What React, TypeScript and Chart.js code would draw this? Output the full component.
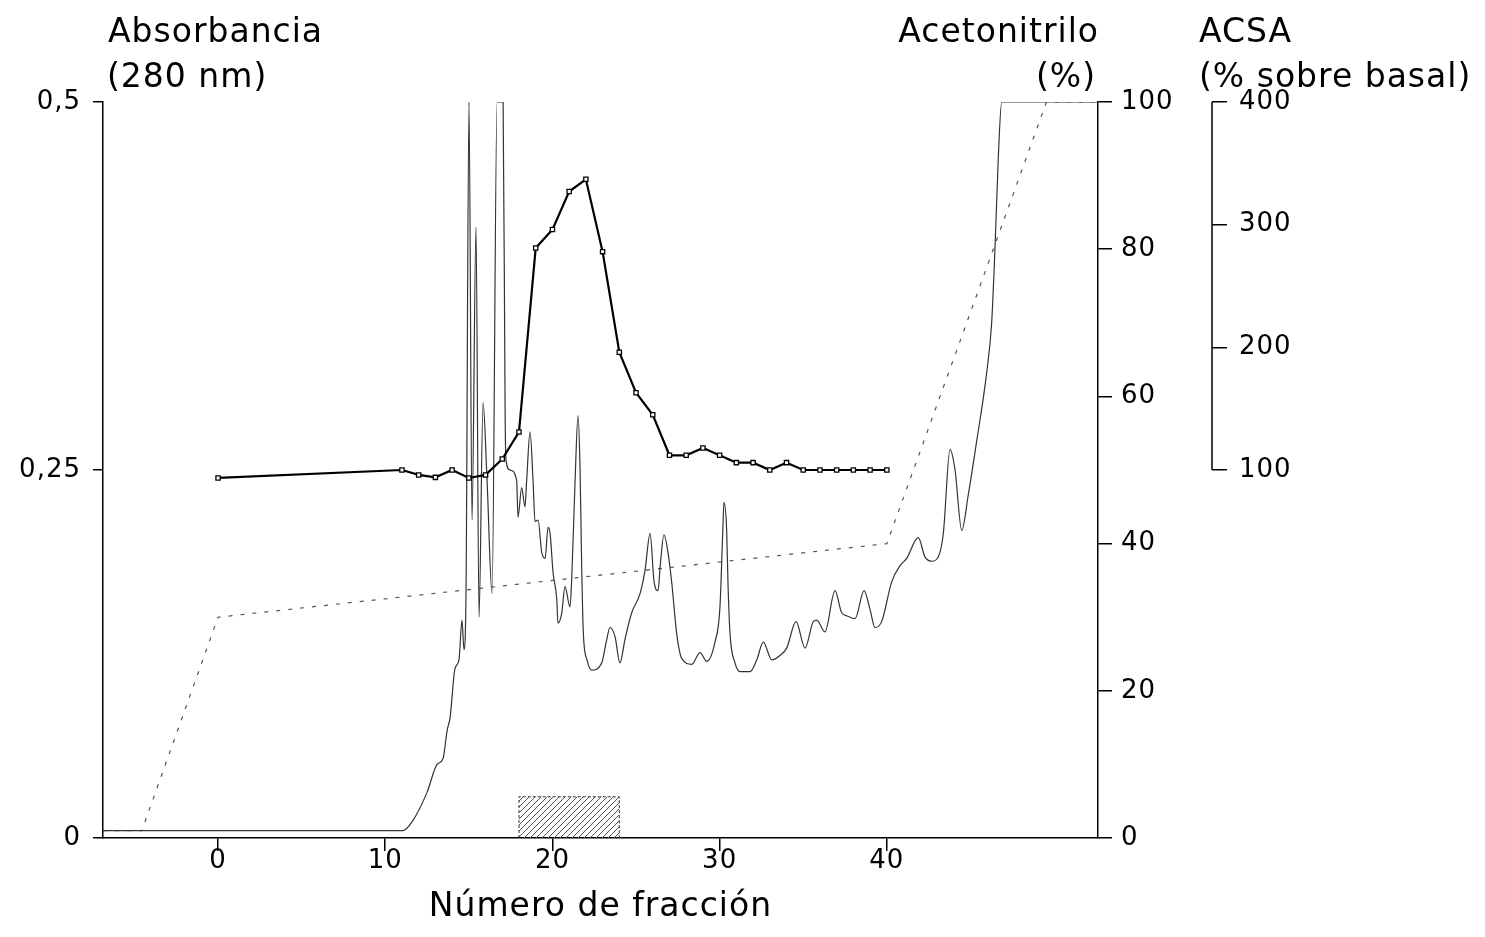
import React, { useEffect, useRef } from 'react';
import { Chart, registerables } from 'chart.js';

Chart.register(...registerables);

// ---- axis ranges / ticks ----
const fractionMin = -6.88;
const fractionMax = 52.63;
const fractionTicks = [0, 10, 20, 30, 40];
const absorbanceTicks = [0, 0.25, 0.5];
const acetonitrileMax = 100;
const acsaMin = -200;
const acsaMax = 400;
const acsaTicks = [100, 200, 300, 400];

// ---- Absorbancia (280 nm) trace ----
const absFraction = [
  -6.88, 11.06, 11.66, 12.5, 13.1, 13.46, 13.7, 13.88, 14.17, 14.41,
  14.59, 14.71, 14.83, 15.01, 15.19, 15.43, 15.61, 15.85, 16.09, 16.39,
  16.69, 17.05, 17.17, 17.22, 17.46, 17.86, 17.94, 18.16, 18.36, 18.46,
  18.66, 18.84, 18.96, 19.14, 19.36, 19.56, 19.74, 19.86, 20.04, 20.26,
  20.33, 20.56, 20.75, 21.05, 21.15, 21.35, 21.53, 21.65, 21.75, 21.85,
  22.07, 22.35, 22.95, 23.25, 23.44, 23.74, 24.04, 24.34, 24.74, 25.24,
  25.54, 25.84, 26.08, 26.32, 26.44, 26.67, 26.91, 27.14, 27.43, 27.73,
  28.33, 28.83, 29.23, 29.72, 30.02, 30.19, 30.26, 30.42, 30.5, 30.62,
  30.92, 31.22, 31.82, 32.22, 32.61, 33.12, 33.61, 34.01, 34.57, 35.11,
  35.6, 35.81, 36.3, 36.9, 37.3, 37.6, 38.1, 38.64, 39.0, 39.29,
  39.69, 40.29, 40.79, 41.19, 41.88, 42.28, 42.69, 43.08, 43.38, 43.78,
  44.08, 44.48, 44.87, 45.38, 45.97, 46.27, 46.47, 46.67, 46.87, 52.63,
];
const absValue = [
  0.005, 0.005, 0.012, 0.031, 0.05, 0.054, 0.073, 0.082, 0.115, 0.121,
  0.148, 0.128, 0.165, 0.5, 0.216, 0.415, 0.15, 0.296, 0.243, 0.166,
  0.5, 0.5, 0.289, 0.257, 0.25, 0.243, 0.218, 0.238, 0.225, 0.243,
  0.276, 0.243, 0.215, 0.216, 0.194, 0.19, 0.211, 0.207, 0.18, 0.162,
  0.146, 0.153, 0.171, 0.157, 0.175, 0.241, 0.287, 0.252, 0.184, 0.139,
  0.121, 0.114, 0.119, 0.135, 0.143, 0.137, 0.119, 0.135, 0.153, 0.166,
  0.182, 0.207, 0.174, 0.168, 0.184, 0.206, 0.194, 0.173, 0.139, 0.122,
  0.118, 0.126, 0.12, 0.133, 0.157, 0.209, 0.228, 0.209, 0.173, 0.139,
  0.119, 0.113, 0.113, 0.121, 0.133, 0.121, 0.124, 0.129, 0.147, 0.129,
  0.147, 0.148, 0.14, 0.168, 0.153, 0.151, 0.149, 0.168, 0.155, 0.143,
  0.147, 0.174, 0.185, 0.19, 0.204, 0.191, 0.188, 0.191, 0.207, 0.264,
  0.25, 0.209, 0.233, 0.27, 0.316, 0.35, 0.401, 0.463, 0.5, 0.5,
];

// ---- Acetonitrilo (%) gradient ----
const gradFraction = [-6.88, -4.56, 0, 40, 49.55, 52.63];
const gradPercent = [1, 1, 30, 40, 100, 100];

// ---- ACSA (% sobre basal) ----
const acsaFraction = [0, 11, 12, 13, 14, 15, 16, 17, 18, 19, 20, 21, 22, 23, 24, 25, 26, 27, 28, 29, 30, 31, 32, 33, 34, 35, 36, 37, 38, 39, 40];
const acsaValue = [93.5, 100, 96, 94, 100, 93.5, 96, 109, 131, 281, 296, 327, 337, 278, 196, 163, 145, 112, 112, 118, 112, 106, 106, 100, 106, 100, 100, 100, 100, 100, 100];

// ---- active fractions (hatched box) ----
const activeFractions = [18, 24];
const activeLevel = 0.028;

const FONT = '"DejaVu Sans", "Liberation Sans", sans-serif';

function makeHatch(): CanvasPattern | string {
  const c = document.createElement('canvas');
  c.width = 6;
  c.height = 6;
  const g = c.getContext('2d');
  if (!g) return '#bbb';
  g.strokeStyle = '#555';
  g.lineWidth = 1;
  g.beginPath();
  g.moveTo(0, 6);
  g.lineTo(6, 0);
  g.moveTo(-1, 1);
  g.lineTo(1, -1);
  g.moveTo(5, 7);
  g.lineTo(7, 5);
  g.stroke();
  return g.createPattern(c, 'repeat') || '#bbb';
}

const decorPlugin = {
  id: 'decor',
  beforeDraw(chart: any) {
    chart.ctx.letterSpacing = '1px';
  },
  afterDraw(chart: any) {
    const ctx = chart.ctx as CanvasRenderingContext2D;
    const area = chart.chartArea;
    const s = chart.scales.yACSA;
    ctx.save();
    // ACSA axis line spanning only its ticks
    ctx.strokeStyle = '#000';
    ctx.lineWidth = 1.5;
    ctx.beginPath();
    ctx.moveTo(s.left, s.getPixelForValue(acsaTicks[0]));
    ctx.lineTo(s.left, s.getPixelForValue(acsaTicks[acsaTicks.length - 1]));
    ctx.stroke();

    ctx.fillStyle = '#000';
    ctx.font = `33px ${FONT}`;
    (ctx as any).letterSpacing = '1px';
    ctx.textBaseline = 'alphabetic';
    ctx.textAlign = 'left';
    ctx.fillText('Absorbancia', area.left + 5, 42);
    ctx.fillText('(280 nm)', area.left + 4, 87);
    ctx.fillText('ACSA', s.left - 13, 42);
    ctx.fillText('(% sobre basal)', s.left - 13, 87);
    ctx.textAlign = 'right';
    ctx.fillText('Acetonitrilo', area.right + 1, 42);
    ctx.fillText('(%)', area.right - 2, 87);
    ctx.textAlign = 'center';
    ctx.fillText('Número de fracción', (area.left + area.right) / 2, 916);
    ctx.restore();
  },
};

export default function App() {
  const ref = useRef<HTMLCanvasElement | null>(null);

  useEffect(() => {
    document.body.style.margin = '0';
    const canvas = ref.current;
    if (!canvas) return;
    const hatch = makeHatch();

    const tickFont = { family: FONT, size: 26, lineHeight: 1 };
    const axisGrid = (len: number) => ({
      display: true,
      drawOnChartArea: false,
      drawTicks: true,
      tickLength: len,
      color: '#000',
      lineWidth: 1.5,
    });

    const chart = new Chart(canvas, {
      type: 'line',
      data: {
        datasets: [
          {
            label: 'ACSA',
            data: acsaFraction.map((x, i) => ({ x, y: acsaValue[i] })),
            yAxisID: 'yACSA',
            borderColor: '#000',
            borderWidth: 2.2,
            pointStyle: 'rect',
            pointRadius: 3,
            pointBackgroundColor: '#fff',
            pointBorderColor: '#000',
            pointBorderWidth: 1.3,
            tension: 0,
          },
          {
            label: 'Absorbancia',
            data: absFraction.map((x, i) => ({ x, y: absValue[i] })),
            yAxisID: 'yA',
            borderColor: '#333',
            borderWidth: 1.2,
            pointRadius: 0,
            cubicInterpolationMode: 'monotone',
          },
          {
            label: 'Acetonitrilo',
            data: gradFraction.map((x, i) => ({ x, y: gradPercent[i] })),
            yAxisID: 'yAc',
            borderColor: '#555',
            borderWidth: 1.2,
            borderDash: [4, 8],
            pointRadius: 0,
            tension: 0,
          },
          {
            label: 'Fracciones activas',
            data: [
              { x: activeFractions[0], y: 0 },
              { x: activeFractions[0], y: activeLevel },
              { x: activeFractions[1], y: activeLevel },
              { x: activeFractions[1], y: 0 },
            ],
            yAxisID: 'yA',
            fill: 'origin',
            backgroundColor: hatch as any,
            borderColor: '#333',
            borderWidth: 1,
            borderDash: [3, 2],
            pointRadius: 0,
            tension: 0,
          },
        ],
      },
      options: {
        animation: false,
        responsive: false,
        maintainAspectRatio: false,
        layout: { padding: { top: 102, left: 0, right: 0, bottom: 0 } },
        plugins: {
          legend: { display: false },
          tooltip: { enabled: false },
        },
        scales: {
          x: {
            type: 'linear',
            position: 'bottom',
            min: fractionMin,
            max: fractionMax,
            afterBuildTicks: (s: any) => {
              s.ticks = fractionTicks.map((v) => ({ value: v }));
            },
            afterFit: (s: any) => {
              s.height = 99;
            },
            ticks: { font: tickFont, color: '#000', padding: -3, maxRotation: 0 },
            grid: axisGrid(13),
            border: { display: true, color: '#000', width: 1.5 },
          },
          yA: {
            type: 'linear',
            position: 'left',
            min: 0,
            max: 0.5,
            afterBuildTicks: (s: any) => {
              s.ticks = absorbanceTicks.map((v) => ({ value: v }));
            },
            afterFit: (s: any) => {
              s.width = 103;
            },
            ticks: {
              font: tickFont,
              color: '#000',
              padding: 12,
              callback: (v: any) => String(v).replace('.', ','),
            },
            grid: axisGrid(10),
            border: { display: true, color: '#000', width: 1.5 },
          },
          yAc: {
            type: 'linear',
            position: 'right',
            weight: 0,
            min: 0,
            max: acetonitrileMax,
            ticks: { stepSize: 20, font: tickFont, color: '#000', padding: 9 },
            afterFit: (s: any) => {
              s.width = 114;
            },
            grid: axisGrid(14),
            border: { display: true, color: '#000', width: 1.5 },
          },
          yACSA: {
            type: 'linear',
            position: 'right',
            weight: 1,
            min: acsaMin,
            max: acsaMax,
            afterBuildTicks: (s: any) => {
              s.ticks = acsaTicks.map((v) => ({ value: v }));
            },
            afterFit: (s: any) => {
              s.width = 273;
            },
            ticks: { font: tickFont, color: '#000', padding: 12 },
            grid: axisGrid(15),
            border: { display: false },
          },
        },
      } as any,
      plugins: [decorPlugin],
    });

    return () => chart.destroy();
  }, []);

  return (
    <div style={{ position: 'absolute', left: 0, top: 0, width: 1485, height: 937, background: '#fff' }}>
      <canvas ref={ref} width={1485} height={937} style={{ display: 'block' }} />
    </div>
  );
}
